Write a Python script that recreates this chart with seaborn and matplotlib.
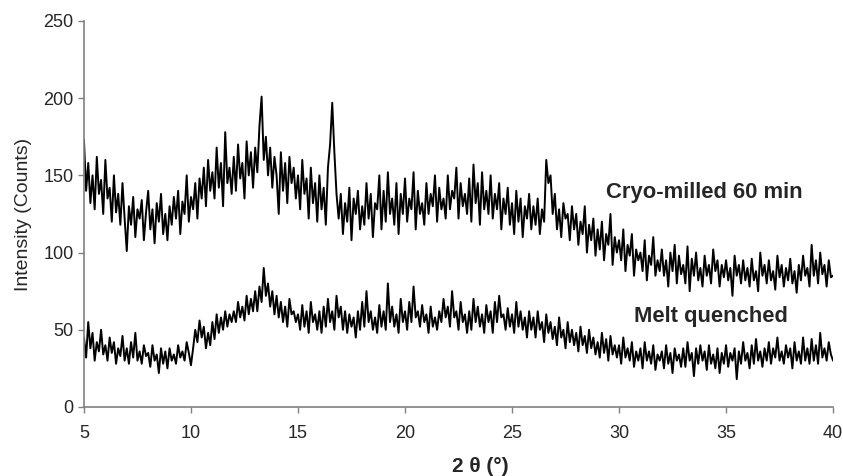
import numpy as np
import pandas as pd
import seaborn as sns
import matplotlib
matplotlib.use("Agg")
import matplotlib.pyplot as plt

# 2-theta from 5 to 40 deg, 0.1 deg step
two_theta = np.round(np.arange(5.0, 40.05, 0.1), 1)

# intensities (counts)
cryo_milled = [
    173, 140, 158, 132, 150, 128, 162, 138, 147, 125,
    160, 135, 142, 120, 150, 126, 138, 118, 145, 122,
    101, 130, 118, 136, 110, 128, 122, 134, 108, 126,
    140, 115, 128, 106, 132, 120, 138, 112, 125, 108,
    130, 118, 136, 122, 140, 112, 133, 125, 150, 120,
    136, 128, 145, 122, 148, 135, 155, 130, 160, 140,
    152, 135, 168, 142, 158, 130, 178, 145, 155, 138,
    162, 140, 170, 148, 158, 135, 172, 150, 165, 142,
    168, 152, 182, 201, 160, 175, 150, 168, 142, 162,
    150, 125, 165, 140, 158, 132, 162, 145, 155, 135,
    150, 128, 160, 138, 148, 122, 155, 132, 145, 120,
    150, 128, 142, 118, 155, 170, 197, 165, 138, 122,
    138, 112, 132, 120, 142, 108, 135, 125, 140, 115,
    130, 118, 145, 122, 138, 110, 132, 128, 150, 115,
    140, 120, 152, 125, 135, 118, 145, 112, 138, 125,
    148, 120, 135, 128, 152, 115, 140, 125, 132, 118,
    145, 125, 138, 130, 150, 120, 142, 128, 135, 122,
    150, 128, 140, 135, 155, 122, 145, 130, 138, 125,
    148, 120, 157, 132, 145, 118, 152, 128, 140, 125,
    150, 122, 138, 128, 145, 115, 135, 125, 142, 118,
    132, 112, 140, 120, 135, 110, 130, 122, 138, 115,
    130, 118, 135, 112, 128, 120, 160, 145, 150, 125,
    138, 115, 128, 110, 132, 122, 125, 108, 130, 115,
    125, 105, 120, 112, 130, 100, 118, 108, 122, 98,
    115, 102, 120, 95, 112, 105, 125, 92, 110, 100,
    108, 95, 115, 88, 105, 98, 112, 85, 102, 95,
    100, 88, 108, 82, 98, 92, 110, 85, 95, 88,
    102, 85, 95, 78, 100, 88, 105, 80, 98, 86,
    92, 80, 104, 75, 96, 85, 100, 82, 90, 78,
    98, 85, 92, 80, 102, 88, 95, 78, 92, 84,
    95, 82, 90, 72, 98, 85, 92, 80, 95, 82,
    90, 78, 96, 82, 88, 75, 100, 85, 92, 80,
    95, 82, 88, 76, 98, 84, 92, 78, 90, 82,
    96, 80, 88, 74, 92, 82, 98, 85, 90, 78,
    105, 85, 95, 80, 100, 86, 92, 78, 95, 84,
    85,
]

melt_quenched = [
    45, 32, 55, 38, 48, 30, 42, 36, 50, 34,
    40, 30, 45, 35, 42, 28, 38, 33, 46, 30,
    38, 28, 42, 32, 48, 30, 36, 28, 40, 33,
    35, 26, 40, 30, 34, 22, 38, 28, 36, 25,
    38, 30, 34, 28, 40, 32, 36, 30, 42, 35,
    27, 38, 50, 42, 56, 45, 52, 38, 48, 40,
    55, 44, 60, 48, 58, 50, 62, 52, 60, 55,
    62, 55, 68, 58, 65, 56, 72, 60, 70, 62,
    75, 62, 78, 68, 90, 72, 80, 65, 75, 60,
    72, 58, 68, 55, 65, 52, 70, 60, 62, 55,
    60, 50, 66, 52, 62, 48, 68, 55, 60, 50,
    62, 48, 65, 52, 70, 55, 62, 50, 72, 58,
    65, 50, 62, 48, 60, 52, 58, 45, 62, 50,
    68, 52, 75, 55, 62, 50, 58, 48, 66, 52,
    62, 50, 80, 55, 65, 52, 60, 48, 70, 55,
    62, 50, 68, 55, 78, 58, 62, 52, 66, 55,
    60, 48, 65, 52, 58, 50, 62, 55, 70, 58,
    65, 52, 75, 58, 62, 50, 68, 55, 60, 48,
    62, 50, 70, 55, 65, 52, 60, 48, 66, 55,
    62, 48, 68, 55, 72, 58, 60, 50, 64, 52,
    60, 48, 68, 52, 62, 50, 58, 45, 62, 50,
    58, 45, 62, 50, 55, 42, 60, 48, 55, 44,
    52, 40, 58, 45, 50, 38, 55, 42, 50, 40,
    48, 36, 52, 40, 46, 35, 50, 38, 45, 34,
    42, 32, 48, 35, 44, 30, 46, 34, 40, 32,
    40, 28, 45, 32, 38, 30, 42, 26, 36, 30,
    38, 25, 42, 30, 36, 28, 40, 24, 34, 30,
    36, 25, 40, 28, 35, 22, 38, 30, 34, 26,
    38, 26, 42, 30, 35, 20, 38, 28, 40, 30,
    36, 24, 40, 28, 34, 25, 38, 22, 35, 28,
    40, 26, 35, 30, 38, 18, 36, 28, 42, 30,
    35, 25, 40, 28, 44, 30, 36, 26, 38, 30,
    42, 28, 38, 32, 45, 30, 36, 28, 40, 32,
    38, 25, 42, 30, 36, 28, 45, 30, 38, 28,
    44, 30, 40, 28, 48, 32, 38, 30, 42, 34,
    30,
]

series_names = ["Cryo-milled 60 min", "Melt quenched"]
label_pos = [(34.0, 139), (34.3, 58.5)]

df = pd.DataFrame({
    "two_theta": np.concatenate([two_theta, two_theta]),
    "counts": cryo_milled + melt_quenched,
    "sample": [series_names[0]] * len(two_theta) + [series_names[1]] * len(two_theta),
})

sns.set_style("ticks")
plt.rcParams["font.family"] = ["Liberation Sans", "DejaVu Sans"]

fig = plt.figure(figsize=(8.43, 4.76), dpi=100)
ax = fig.add_axes([0.0996, 0.145, 0.8886, 0.811])

sns.lineplot(data=df, x="two_theta", y="counts", hue="sample",
             palette=["black", "black"], linewidth=1.4, legend=False,
             estimator=None, sort=False, ax=ax)

for name, (tx, ty) in zip(series_names, label_pos):
    ax.text(tx, ty, name, ha="center", va="center", fontsize=15.8,
            fontweight="bold")

ax.set_xlim(5, 40)
ax.set_ylim(0, 250)
ax.set_xticks(range(5, 41, 5))
ax.set_yticks(range(0, 251, 50))
ax.set_xlabel("2 θ (°)", fontsize=15, fontweight="bold", va="center")
ax.xaxis.set_label_coords(0.529, -0.155)
ax.set_ylabel("Intensity (Counts)", fontsize=14, labelpad=8)
ax.tick_params(labelsize=13, color="#808080", length=4, width=1)
ax.tick_params(axis="x", pad=9)
sns.despine(ax=ax)
for s in ["left", "bottom"]:
    ax.spines[s].set_color("#808080")
    ax.spines[s].set_linewidth(1.2)

fig.savefig("out.png", dpi=100)
